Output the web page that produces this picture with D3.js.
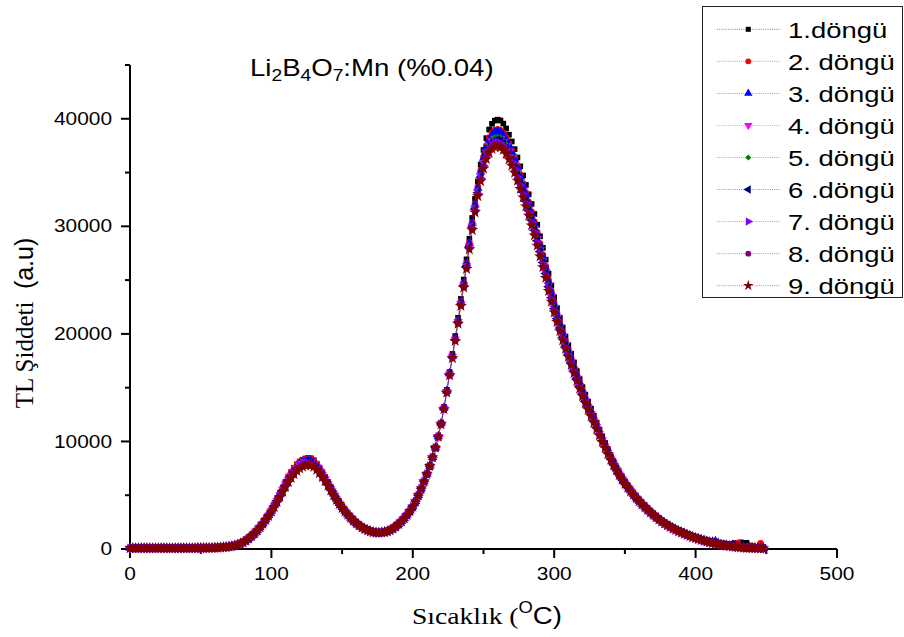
<!DOCTYPE html>
<meta charset="utf-8">
<style>
  body{margin:0;background:#fff;}
  text{font-family:"Liberation Sans",Arial,sans-serif;fill:#000;}
  .serif{font-family:"Liberation Serif","Times New Roman",serif;}
</style>
<svg id="chart" width="904" height="637"></svg>
<script src="https://d3js.org/d3.v7.min.js"></script>
<script>

// temperature (C) of every reading
var temps = [
  0,2,4,6,8,10,12,14,16,18,20,22,24,26,28,30,32,34,36,38,
  40,42,44,46,48,50,52,54,56,58,60,62,64,66,68,70,72,74,76,78,
  80,82,84,86,88,90,92,94,96,98,100,102,104,106,108,110,112,114,116,118,
  120,122,124,126,128,130,132,134,136,138,140,142,144,146,148,150,152,154,156,158,
  160,162,164,166,168,170,172,174,176,178,180,182,184,186,188,190,192,194,196,198,
  200,202,204,206,208,210,212,214,216,218,220,222,224,226,228,230,232,234,236,238,
  240,242,244,246,248,250,252,254,256,258,260,262,264,266,268,270,272,274,276,278,
  280,282,284,286,288,290,292,294,296,298,300,302,304,306,308,310,312,314,316,318,
  320,322,324,326,328,330,332,334,336,338,340,342,344,346,348,350,352,354,356,358,
  360,362,364,366,368,370,372,374,376,378,380,382,384,386,388,390,392,394,396,398,
  400,402,404,406,408,410,412,414,416,418,420,422,424,426,428,430,432,434,436,438,
  440,442,444,446,448
];

var cycle1 = [
  80,80,80,80,80,80,80,80,80,80,80,80,80,80,80,80,80,80,80,80,
  80,80,80,80,90,90,90,100,100,110,120,130,150,170,190,220,260,320,400,500,
  620,780,980,1200,1440,1720,2020,2350,
  2770,3180,3610,4120,4640,5180,5710,6240,6730,7150,7540,7870,8130,8300,8410,8460,8430,8250,7940,7560,
  7140,6690,6220,5710,5200,4720,4310,3920,3550,3210,
  2900,2630,2390,2190,2010,1860,1740,1640,1570,1530,1520,1540,1580,1650,1760,1900,2090,2320,2570,2850,
  3170,3530,3940,4430,5000,5620,6280,6980,7720,8520,9420,10450,
  11730,13200,14800,16450,18130,19800,21500,23250,25050,26930,28850,30780,32550,34180,35750,37100,38200,39000,39530,39830,
  39920,39840,39550,39100,38520,37890,37180,36400,35580,34730,33850,32980,32080,31150,30150,29080,28000,26900,25600,24500,
  23400,22400,21500,20600,19750,18950,18150,17350,16550,15800,15050,14350,13700,13050,12400,11750,11100,10450,9850,9250,
  8650,8100,7570,7100,6650,6240,5850,5490,5140,4810,4490,4190,
  3980,3730,3490,3260,3040,2830,2640,2460,2290,2140,1990,1860,1730,1610,1500,1390,1290,1190,1100,1010,
  930,850,780,710,650,600,560,480,520,410,470,380,560,440,620,500,580,320,260,200,150,120,90
];
var cycle2 = [
  80,80,80,80,80,80,80,80,80,80,80,80,80,80,80,80,80,80,80,80,
  80,80,80,80,90,90,90,100,100,110,120,130,150,170,190,220,260,320,400,500,
  620,780,980,1200,1440,1720,2020,2350,
  2760,3170,3600,4100,4620,5150,5680,6200,6690,7110,7490,7820,8080,8250,8360,8410,8380,8200,7890,7520,
  7100,6660,6190,5690,5180,4710,4300,3910,3540,3210,
  2900,2630,2390,2190,2010,1860,1740,1640,1570,1530,1520,1540,1580,1650,1760,1900,2090,2320,2570,2850,
  3170,3530,3940,4430,5000,5620,6280,6980,7720,8520,9420,10450,
  11680,13130,14710,16340,17990,19640,21300,23020,24780,26610,28490,30370,32100,33680,35190,36470,37500,38230,38690,38950,
  39020,38940,38670,38240,37690,37080,36390,35630,34820,33990,33130,32260,31360,30430,29450,28400,27350,26290,25020,23960,
  22900,21930,21050,20170,19340,18550,17770,16990,16210,15480,14740,14060,13430,12800,12170,11530,10900,10270,9690,9110,
  8520,7990,7480,7010,6580,6170,5800,5440,5100,4780,4470,4180,
  3950,3700,3460,3230,3010,2800,2610,2430,2260,2110,1960,1830,1700,1580,1470,1360,1250,1150,1060,970,
  890,810,740,670,600,540,480,430,380,330,300,260,330,560,240,200,170,280,190,150,130,520,120
];
var cycle3 = [
  80,80,80,80,80,80,80,80,80,80,80,80,80,80,80,80,80,80,80,80,
  80,80,80,80,90,90,90,100,100,110,120,130,150,170,190,220,260,320,400,500,
  620,780,980,1200,1440,1720,2020,2350,
  2740,3140,3560,4050,4550,5060,5570,6070,6550,6960,7330,7650,7900,8070,8180,8230,8200,8030,7730,7380,
  6970,6550,6100,5620,5130,4670,4260,3880,3520,3200,
  2900,2630,2390,2190,2010,1860,1740,1640,1570,1530,1520,1540,1580,1650,1760,1900,2090,2320,2570,2850,
  3170,3530,3940,4430,5000,5620,6280,6980,7720,8520,9420,10450,
  11670,13110,14690,16320,17960,19600,21260,22960,24720,26540,28410,30280,32000,33570,35070,36330,37340,38050,38500,38750,
  38820,38740,38470,38050,37510,36900,36210,35450,34660,33830,32970,32100,31200,30270,29290,28250,27210,26150,24900,23840,
  22780,21830,20950,20070,19240,18470,17690,16910,16130,15400,14680,14000,13370,12740,12110,11490,10860,10230,9650,9070,
  8500,7970,7460,7000,6560,6160,5780,5430,5100,4770,4470,4170,
  3920,3670,3430,3200,2980,2770,2580,2400,2230,2080,1930,1800,1670,1550,1440,1330,1230,1130,1040,950,
  870,790,720,650,680,720,560,430,390,340,300,380,250,210,190,160,140,120,110,100,90,80,70
];
var cycle4 = [
  80,80,80,80,80,80,80,80,80,80,80,80,80,80,80,80,80,80,80,80,
  80,80,80,80,90,90,90,100,100,110,120,130,150,170,190,220,260,320,400,500,
  620,780,980,1200,1440,1720,2020,2350,
  2730,3130,3540,4010,4500,5000,5500,5990,6450,6860,7220,7540,7780,7950,8060,8110,8080,7920,7620,7280,
  6890,6480,6040,5570,5090,4640,4240,3870,3510,3200,
  2900,2630,2390,2190,2010,1860,1740,1640,1570,1530,1520,1540,1580,1650,1760,1900,2090,2320,2570,2850,
  3170,3530,3940,4430,5000,5620,6280,6980,7720,8520,9420,10450,
  11640,13060,14630,16250,17870,19490,21130,22810,24540,26330,28170,30010,31700,33240,34700,35910,36870,37540,37940,38160,
  38220,38140,37880,37480,36960,36360,35680,34940,34150,33340,32490,31620,30720,29790,28820,27800,26780,25740,24510,23480,
  22450,21520,20650,19780,18970,18200,17440,16670,15900,15190,14470,13810,13190,12570,11960,11340,10730,10110,9540,8980,
  8410,7900,7400,6940,6510,6120,5750,5400,5070,4750,4460,4170,
  3900,3650,3410,3180,2960,2750,2560,2380,2210,2060,1910,1780,1650,1530,1420,1310,1210,1110,1020,930,
  850,770,700,630,570,510,450,400,350,310,270,240,210,180,160,140,120,110,100,90,80,70,60
];
var cycle5 = [
  80,80,80,80,80,80,80,80,80,80,80,80,80,80,80,80,80,80,80,80,
  80,80,80,80,90,90,90,100,100,110,120,130,150,170,190,220,260,320,400,500,
  620,780,980,1200,1440,1720,2020,2350,
  2730,3120,3530,4000,4480,4980,5470,5960,6410,6810,7180,7490,7730,7900,8010,8060,8030,7870,7580,7240,
  6860,6450,6020,5550,5080,4620,4230,3860,3510,3190,
  2900,2630,2390,2190,2010,1860,1740,1640,1570,1530,1520,1540,1580,1650,1760,1900,2090,2320,2570,2850,
  3170,3530,3940,4430,5000,5620,6280,6980,7720,8520,9420,10450,
  11650,13070,14640,16260,17890,19510,21150,22830,24570,26370,28210,30060,31750,33300,34760,35980,36950,37620,38040,38260,
  38320,38240,37980,37580,37050,36450,35770,35020,34240,33420,32570,31700,30800,29870,28900,27880,26850,25810,24580,23540,
  22500,21570,20700,19830,19010,18250,17480,16710,15940,15220,14510,13840,13220,12600,11980,11370,10750,10130,9560,8990,
  8430,7910,7410,6950,6520,6120,5750,5410,5080,4760,4460,4170,
  3900,3650,3410,3180,2960,2750,2560,2380,2210,2060,1910,1780,1650,1530,1420,1310,1210,1110,1020,930,
  850,770,700,630,570,510,450,400,350,310,270,240,210,180,160,140,120,110,100,90,80,70,60
];
var cycle6 = [
  80,80,80,80,80,80,80,80,80,80,80,80,80,80,80,80,80,80,80,80,
  80,80,80,80,90,90,90,100,100,110,120,130,150,170,190,220,260,320,400,500,
  620,780,980,1200,1440,1720,2020,2350,
  2720,3110,3520,3980,4460,4950,5440,5920,6370,6770,7130,7440,7680,7850,7960,8010,7980,7820,7530,7200,
  6820,6420,5990,5530,5060,4610,4220,3850,3500,3190,
  2900,2630,2390,2190,2010,1860,1740,1640,1570,1530,1520,1540,1580,1650,1760,1900,2090,2320,2570,2850,
  3170,3530,3940,4430,5000,5620,6280,6980,7720,8520,9420,10450,
  11630,13050,14610,16220,17840,19460,21080,22760,24480,26260,28090,29920,31600,33130,34570,35770,36720,37370,37760,37970,
  38020,37940,37690,37290,36770,36180,35510,34770,33980,33170,32330,31460,30560,29630,28670,27650,26630,25610,24380,23360,
  22340,21410,20550,19690,18880,18110,17350,16590,15830,15120,14400,13740,13130,12520,11910,11290,10680,10070,9510,8950,
  8380,7870,7380,6920,6500,6100,5740,5390,5060,4750,4450,4170,
  3900,3650,3410,3180,2960,2750,2560,2380,2210,2060,1910,1780,1650,1530,1420,1310,1210,1110,1020,930,
  850,770,700,630,570,510,450,400,350,310,270,240,210,180,160,140,120,110,100,90,80,70,60
];
var cycle7 = [
  80,80,80,80,80,80,80,80,80,80,80,80,80,80,80,80,80,80,80,80,
  80,80,80,80,90,90,90,100,100,110,120,130,150,170,190,220,260,320,400,500,
  620,780,980,1200,1440,1720,2020,2350,
  2720,3100,3510,3970,4440,4930,5410,5890,6330,6730,7090,7390,7630,7800,7910,7960,7930,7770,7490,7160,
  6790,6390,5970,5510,5050,4600,4210,3840,3500,3190,
  2900,2630,2390,2190,2010,1860,1740,1640,1570,1530,1520,1540,1580,1650,1760,1900,2090,2320,2570,2850,
  3170,3530,3940,4430,5000,5620,6280,6980,7720,8520,9420,10450,
  11620,13030,14590,16200,17810,19420,21040,22700,24420,26190,28010,29830,31500,33020,34450,35630,36560,37190,37570,37770,
  37820,37740,37490,37100,36590,36000,35330,34590,33820,33010,32170,31300,30400,29470,28510,27500,26490,25470,24260,23240,
  22220,21310,20450,19590,18780,18030,17270,16510,15750,15040,14340,13680,13070,12460,11850,11250,10640,10030,9470,8910,
  8360,7850,7360,6910,6480,6090,5720,5380,5060,4740,4450,4160,
  3900,3650,3410,3180,2960,2750,2560,2380,2210,2060,1910,1780,1650,1530,1420,1310,1210,1110,1020,930,
  850,770,700,630,570,510,450,400,350,310,270,240,210,180,160,140,120,110,100,90,80,70,60
];
var cycle8 = [
  80,80,80,80,80,80,80,80,80,80,80,80,80,80,80,80,80,80,80,80,
  80,80,80,80,90,90,90,100,100,110,120,130,150,170,190,220,260,320,400,500,
  620,780,980,1200,1440,1720,2020,2350,
  2710,3090,3500,3940,4410,4890,5370,5840,6270,6670,7020,7330,7560,7730,7840,7890,7860,7710,7420,7100,
  6740,6350,5930,5480,5020,4580,4200,3830,3490,3180,
  2900,2630,2390,2190,2010,1860,1740,1640,1570,1530,1520,1540,1580,1650,1760,1900,2090,2320,2570,2850,
  3170,3530,3940,4430,5000,5620,6280,6980,7720,8520,9420,10450,
  11610,13020,14570,16170,17780,19390,20990,22650,24360,26120,27930,29740,31400,32910,34320,35490,36410,37020,37390,37580,
  37620,37540,37300,36910,36400,35820,35160,34420,33650,32840,32010,31140,30240,29310,28360,27350,26340,25340,24130,23120,
  22110,21200,20350,19500,18690,17940,17180,16430,15680,14970,14270,13610,13010,12410,11800,11200,10590,9990,9440,8880,
  8330,7820,7340,6890,6470,6070,5710,5370,5050,4730,4440,4160,
  3900,3650,3410,3180,2960,2750,2560,2380,2210,2060,1910,1780,1650,1530,1420,1310,1210,1110,1020,930,
  850,770,700,630,570,510,450,400,350,310,270,240,210,180,160,140,120,110,100,90,80,70,60
];
var cycle9 = [
  80,80,80,80,80,80,80,80,80,80,80,80,80,80,80,80,80,80,80,80,
  80,80,80,80,90,90,90,100,100,110,120,130,150,170,190,220,260,320,400,500,
  620,780,980,1200,1440,1720,2020,2350,
  2700,3080,3480,3920,4380,4850,5320,5780,6210,6600,6950,7250,7480,7650,7760,7810,7780,7630,7350,7040,
  6680,6300,5890,5450,5000,4560,4180,3820,3480,3180,
  2900,2630,2390,2190,2010,1860,1740,1640,1570,1530,1520,1540,1580,1650,1760,1900,2090,2320,2570,2850,
  3170,3530,3940,4430,5000,5620,6280,6980,7720,8520,9420,10450,
  11600,13000,14550,16150,17750,19350,20950,22600,24300,26050,27850,29650,31300,32800,34200,35350,36250,36850,37200,37380,
  37420,37340,37100,36720,36220,35640,34980,34250,33480,32680,31850,30980,30080,29150,28200,27200,26200,25200,24000,23000,
  22000,21100,20250,19400,18600,17850,17100,16350,15600,14900,14200,13550,12950,12350,11750,11150,10550,9950,9400,8850,
  8300,7800,7320,6870,6450,6060,5700,5360,5040,4730,4440,4160,
  3900,3650,3410,3180,2960,2750,2560,2380,2210,2060,1910,1780,1650,1530,1420,1310,1210,1110,1020,930,
  850,770,700,630,570,510,450,400,350,310,270,240,210,180,160,140,120,110,100,90,80,70,60
];

var cycleNames = ["1.döngü","2. döngü","3. döngü","4. döngü","5. döngü","6 .döngü","7. döngü","8. döngü","9. döngü"];
var xTicks = [0,100,200,300,400,500];
var xMinorTicks = [50,150,250,350,450];
var yTicks = [0,10000,20000,30000,40000];
var yMinorTicks = [5000,15000,25000,35000,45000];

var allCycles = [cycle1,cycle2,cycle3,cycle4,cycle5,cycle6,cycle7,cycle8,cycle9];

// look of each cycle (Origin default-ish)
var colors = ["#000000","#ff0000","#0000ff","#ff00ff","#008000","#000080","#8000ff","#800080","#800000"];
var shapes = [d3.symbolSquare,d3.symbolCircle,d3.symbolTriangle,d3.symbolTriangle,d3.symbolSquare,
              d3.symbolTriangle,d3.symbolTriangle,d3.symbolCircle,d3.symbolStar];
var sizes = [32,34,38,38,24,38,38,34,44];
var turns = [0,0,0,180,45,-90,90,0,0];

var svg = d3.select("#chart");
svg.append("rect").attr("width",904).attr("height",637).attr("fill","#fff");

var x = d3.scaleLinear().domain([0,500]).range([130,837]);
var y = d3.scaleLinear().domain([0,45000]).range([549,65]);

var tickFont = 19, tickStretch = 1.1;

// x axis
var gx = svg.append("g").attr("transform","translate(0,549)")
    .call(d3.axisBottom(x).offset(0).tickValues(xTicks).tickSize(9).tickSizeOuter(0).tickPadding(9).tickFormat(d3.format("d")));
gx.append("g")
    .call(d3.axisBottom(x).offset(0).tickValues(xMinorTicks).tickSize(5).tickSizeOuter(0).tickFormat(""))
  .select(".domain").remove();

// y axis
var gy = svg.append("g").attr("transform","translate(130,0)")
    .call(d3.axisLeft(y).offset(0).tickValues(yTicks).tickSize(9).tickSizeOuter(0).tickPadding(9).tickFormat(d3.format("d")));
gy.append("g")
    .call(d3.axisLeft(y).offset(0).tickValues(yMinorTicks).tickSize(5).tickSizeOuter(0).tickFormat(""))
  .select(".domain").remove();

[gx,gy].forEach(function(g){
  g.attr("font-family",null).attr("font-size",null);
  g.selectAll(".domain").attr("stroke","#000").attr("stroke-width",2);
  g.selectAll(".tick line").attr("stroke","#000").attr("stroke-width",2);
  g.selectAll(".tick text").attr("font-size",tickFont).attr("fill","#000");
});
gy.selectAll(".tick text").each(function(){
  var t = d3.select(this);
  t.attr("x", (+t.attr("x"))/tickStretch).attr("transform","scale("+tickStretch+",1)");
});
gx.selectAll(".tick text").attr("transform","scale("+tickStretch+",1)");

// data: thin dotted connecting line + markers
allCycles.forEach(function(vals,i){
  var pts = vals.map(function(v,j){ return [temps[j], v]; });
  svg.append("path")
      .datum(pts)
      .attr("fill","none")
      .attr("stroke",colors[i])
      .attr("stroke-width",0.7)
      .attr("stroke-dasharray","1,1")
      .attr("opacity",0.6)
      .attr("d", d3.line().x(function(d){ return x(d[0]); }).y(function(d){ return y(d[1]); }));
  var sym = d3.symbol().type(shapes[i]).size(sizes[i]);
  svg.append("g").selectAll("path")
      .data(pts)
    .enter().append("path")
      .attr("d", sym)
      .attr("fill", colors[i])
      .attr("transform", function(d){ return "translate(" + x(d[0]) + "," + y(d[1]) + ") rotate(" + turns[i] + ")"; });
});

// title
var title = svg.append("text").attr("transform","translate(250,76) scale(1.2,1)").attr("font-size",23);
[["Li",0],["2",1],["B",0],["4",1],["O",0],["7",1],[":Mn (%0.04)",0]].forEach(function(p,k,arr){
  var prevSub = k > 0 && arr[k-1][1];
  var dy = p[1] ? 5 : (prevSub ? -5 : 0);
  title.append("tspan").attr("dy",dy).attr("font-size",p[1] ? 16 : 23).text(p[0]);
});

// axis titles
var xt = svg.append("text").attr("transform","translate(412,624) scale(1.15,1)").attr("font-size",24);
xt.append("tspan").attr("class","serif").text("Sıcaklık (");
xt.append("tspan").attr("font-size",16).attr("dy",-11).text("O");
xt.append("tspan").attr("dy",11).text("C)");

var yt = svg.append("text").attr("transform","translate(33,323) rotate(-90)")
    .attr("text-anchor","middle").attr("font-size",25).style("white-space","pre");
yt.append("tspan").attr("class","serif").text("TL Şiddeti  ");
yt.append("tspan").text("(a.u)");

// legend
var legend = svg.append("g");
legend.append("rect").attr("x",702.5).attr("y",6.5).attr("width",200).attr("height",291)
    .attr("fill","#fff").attr("stroke","#222").attr("stroke-width",1);
cycleNames.forEach(function(name,i){
  var cy = 29.3 + i*32.05;
  legend.append("line").attr("x1",717).attr("x2",780).attr("y1",cy).attr("y2",cy)
      .attr("stroke",colors[i]).attr("stroke-width",0.8).attr("stroke-dasharray","1,1.2").attr("opacity",0.6);
  legend.append("path").attr("d", d3.symbol().type(shapes[i]).size(sizes[i] * 0.8)())
      .attr("fill",colors[i])
      .attr("transform","translate(748.3," + cy + ") rotate(" + turns[i] + ")");
  legend.append("text").attr("transform","translate(788," + (cy+8.5) + ") scale(1.22,1)")
      .attr("font-size",22.5).text(name);
});

</script>
